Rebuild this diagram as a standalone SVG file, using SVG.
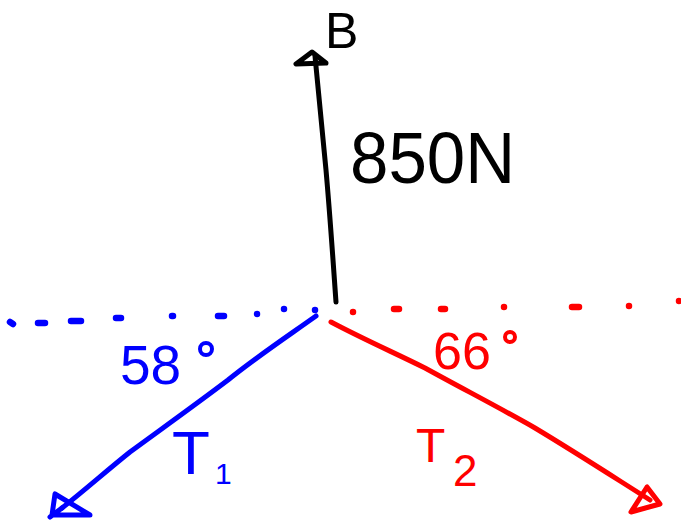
<svg xmlns="http://www.w3.org/2000/svg" width="681" height="523" viewBox="0 0 681 523">
<style>
.ink{fill:none;stroke-width:5;stroke-linecap:round;stroke-linejoin:round}
.dot{fill:none;stroke-width:6.5;stroke-linecap:round}
.k{stroke:#000}
.b{stroke:#0000ff}
.r{stroke:#ff0000}
.t{font-family:"Liberation Sans",Arial,sans-serif}
</style>
<rect width="681" height="523" fill="#fff"/>
<g id="axis-left">
<path class="dot b" d="M10 322 l3 2 M38 323 h7 M71 321 h10 M116 318 h5 M172 316 h1 M218 316 h6 M257 314 h0 M284 309 h0 M315 310 h0"/>
</g>
<g id="axis-right">
<path class="dot r" d="M353 312 h0 M394 309 h5 M441 309 h4 M504 307 h0 M572 307 h7 M629 306 h0 M679 301 h0"/>
</g>
<g id="connectors">
<g id="force-B">
<path class="ink k" d="M315 56 C318 90 322 130 326 170 C330 215 333 260 336 302"/>
<path class="ink k" d="M312 52 L296 64 L326 63 L312 52 Z"/>
</g>
<g id="force-T1">
<path class="ink b" d="M316 316 C285 338 255 358 228 380 C195 405 160 430 130 452 C105 472 85 490 62 508"/>
<path class="ink b" d="M55 494 L52 515 L90 515 Z M50 517 L62 508"/>
</g>
<g id="force-T2">
<path class="ink r" d="M331 322 C365 340 395 353 425 368 C465 390 500 408 535 428 C575 452 612 476 650 500"/>
<path class="ink r" d="M647 487 L631 512 L660 504 Z"/>
</g>
</g>
<g id="label-B">
<text class="t" x="325" y="48" font-size="50" fill="#000">B</text>
</g>
<g id="label-850N">
<text class="t" x="350" y="183" font-size="72" fill="#000" textLength="165" lengthAdjust="spacingAndGlyphs">850N</text>
</g>
<g id="label-58">
<text class="t" x="120" y="384" font-size="55" fill="#0000ff">58</text>
<circle cx="206" cy="349" r="6" fill="none" stroke="#0000ff" stroke-width="4"/>
</g>
<g id="label-T1">
<text class="t" x="172" y="474" font-size="62" fill="#0000ff">T</text>
<text class="t" x="215" y="484" font-size="30" fill="#0000ff">1</text>
</g>
<g id="label-66">
<text class="t" x="433" y="369" font-size="52" fill="#ff0000">66</text>
<circle cx="510" cy="337" r="5" fill="none" stroke="#ff0000" stroke-width="4"/>
</g>
<g id="label-T2">
<text class="t" x="416" y="462" font-size="48" fill="#ff0000">T</text>
<text class="t" x="453" y="486" font-size="44" fill="#ff0000">2</text>
</g>
</svg>
